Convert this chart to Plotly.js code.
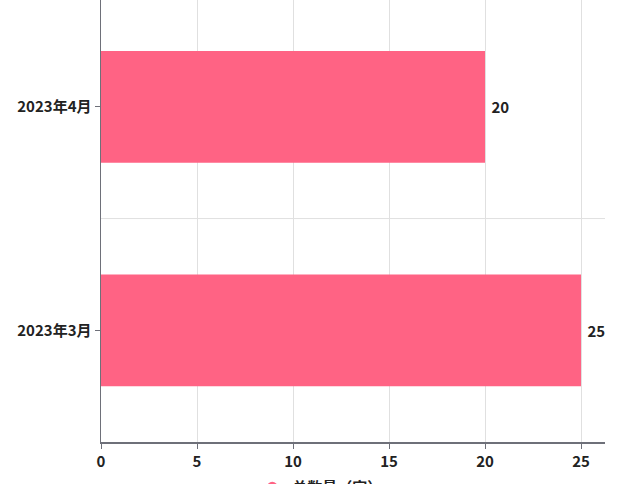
<!DOCTYPE html>
<html>
<head>
<meta charset="utf-8">
<script src="https://cdn.plot.ly/plotly-3.0.1.min.js"></script>
<style>html,body{margin:0;padding:0;background:#fff;}#chart{width:640px;height:484px;}</style>
</head>
<body>
<div id="chart"></div>
<script>
const categories = ['2023年3月', '2023年4月'];
const values = [25, 20];
const seriesName = '总数量（家）';
const xTicks = [0, 5, 10, 15, 20, 25];

const FONT = '"Noto Sans CJK SC", "Noto Sans", sans-serif';
const barColor = 'rgb(255,99,132)';

const traces = [
  {
    type: 'bar',
    orientation: 'h',
    x: values,
    y: categories,
    width: 0.5,
    marker: {color: barColor},
    text: values.map(v => ' ' + v),
    textposition: 'outside',
    cliponaxis: false,
    textfont: {family: FONT, size: 15, weight: 'bold', color: '#222'},
    showlegend: false,
    hoverinfo: 'x+y'
  },
  {
    type: 'scatter',
    mode: 'markers',
    x: [null],
    y: [null],
    name: seriesName,
    marker: {color: barColor, symbol: 'circle', size: 11},
    showlegend: true
  }
];

const layout = {
  width: 640,
  height: 484,
  margin: {l: 101, r: 35, t: 0, b: 42, autoexpand: false},
  paper_bgcolor: '#fff',
  plot_bgcolor: '#fff',
  font: {family: FONT, color: '#222'},
  xaxis: {
    range: [0, 26.25],
    tickvals: xTicks,
    ticktext: xTicks.map(String),
    showgrid: true,
    gridcolor: '#e0e0e0',
    gridwidth: 1,
    zeroline: false,
    showline: true,
    linecolor: '#6e7079',
    linewidth: 1.5,
    ticks: 'outside',
    ticklen: 5,
    tickcolor: '#6e7079',
    tickfont: {family: FONT, size: 15, weight: 'bold', color: '#222'},
    fixedrange: true
  },
  yaxis: {
    type: 'category',
    categoryorder: 'array',
    categoryarray: categories,
    range: [-0.5, 1.478],
    showgrid: false,
    zeroline: false,
    showline: true,
    linecolor: '#6e7079',
    linewidth: 1.5,
    ticks: 'outside',
    ticklen: 5,
    tickcolor: '#6e7079',
    tickfont: {family: FONT, size: 15, weight: 'bold', color: '#222'},
    fixedrange: true
  },
  shapes: [{
    type: 'line', layer: 'below',
    xref: 'paper', yref: 'y',
    x0: 0, x1: 1, y0: 0.5, y1: 0.5,
    line: {color: '#e0e0e0', width: 1}
  }],
  legend: {
    orientation: 'h',
    x: 0.435, xanchor: 'center',
    y: -0.103, yanchor: 'middle',
    font: {family: FONT, size: 15, weight: 'bold', color: '#222'},
    itemwidth: 30
  },
  bargap: 0.5
};

Plotly.newPlot('chart', traces, layout, {displayModeBar: false, staticPlot: true});
</script>
</body>
</html>
